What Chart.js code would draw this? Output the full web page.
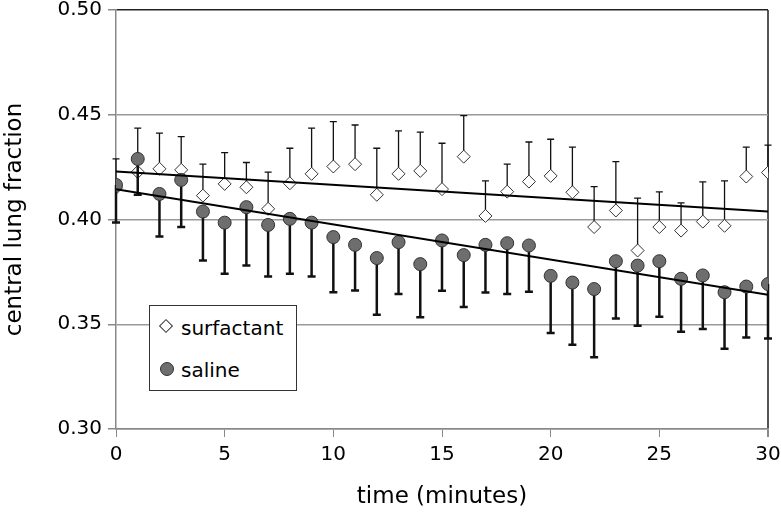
<!DOCTYPE html>
<html>
<head>
<meta charset="utf-8">
<script src="https://cdn.jsdelivr.net/npm/chart.js@4/dist/chart.umd.min.js"></script>
<style>
  body { margin: 0; background: #fff; }
  #wrap { position: relative; width: 781px; height: 528px; }
  #legend {
    position: absolute; left: 149px; top: 305px; width: 148px; height: 86px;
    box-sizing: border-box; border: 1.5px solid #333; background: #fff;
    font-family: "DejaVu Sans", sans-serif; font-size: 20px; line-height: 20px; color: #000;
  }
  #legend .txt { position: absolute; left: 31px; white-space: nowrap; }
  #legend .diamond {
    position: absolute; width: 8px; height: 8px; border: 1px solid #333; background: #fff;
    transform: rotate(45deg);
  }
  #legend .dot {
    position: absolute; width: 12px; height: 12px; border: 1px solid #333; border-radius: 50%;
    background: #6e6e6e;
  }
</style>
</head>
<body>
<div id="wrap">
  <canvas id="chart"></canvas>
  <div id="legend">
    <span class="diamond" style="left:11px; top:15px;"></span>
    <span class="txt" style="top:11.5px;">surfactant</span>
    <span class="dot" style="left:10px; top:56px;"></span>
    <span class="txt" style="top:54px;">saline</span>
  </div>
</div>
<script>
// time points (minutes)
const minutes = [0, 1, 2, 3, 4, 5, 6, 7, 8, 9, 10, 11, 12, 13, 14, 15, 16, 17, 18, 19, 20,
  21, 22, 23, 24, 25, 26, 27, 28, 29, 30];

// surfactant: mean and top of the (upper) error bar
const surfactant = [0.4151, 0.4227, 0.4242, 0.4237, 0.4114, 0.4170, 0.4154, 0.4051, 0.4173, 0.4218,
  0.4253, 0.4264, 0.4118, 0.4218, 0.4232, 0.4145, 0.4300, 0.4017, 0.4133, 0.4181,
  0.4208, 0.4130, 0.3964, 0.4043, 0.3852, 0.3964, 0.3947, 0.3990, 0.3970, 0.4205, 0.4224];
const surfactantHigh = [0.4289, 0.4436, 0.4412, 0.4396, 0.4264, 0.4319, 0.4272, 0.4226, 0.4340, 0.4436,
  0.4467, 0.4451, 0.4340, 0.4423, 0.4417, 0.4364, 0.4496, 0.4184, 0.4264, 0.4370,
  0.4383, 0.4345, 0.4157, 0.4276, 0.4102, 0.4132, 0.4079, 0.4180, 0.4184, 0.4345, 0.4355];

// saline: mean and bottom of the (lower) error bar
const saline = [0.4165, 0.4289, 0.4122, 0.4189, 0.4038, 0.3985, 0.4059, 0.3974, 0.4003, 0.3985,
  0.3916, 0.3879, 0.3816, 0.3892, 0.3787, 0.3900, 0.3830, 0.3879, 0.3887, 0.3876,
  0.3731, 0.3699, 0.3668, 0.3801, 0.3780, 0.3801, 0.3717, 0.3733, 0.3653, 0.3680, 0.3692];
const salineLow = [0.3986, 0.4118, 0.3919, 0.3964, 0.3804, 0.3741, 0.3780, 0.3728, 0.3741, 0.3728,
  0.3653, 0.3661, 0.3545, 0.3644, 0.3534, 0.3660, 0.3582, 0.3652, 0.3644, 0.3655,
  0.3458, 0.3402, 0.3343, 0.3528, 0.3493, 0.3536, 0.3464, 0.3477, 0.3383, 0.3437, 0.3432];

// linear trend lines, read at both ends
const trendX = [0, 30];
const surfactantTrend = [0.4229, 0.4038];
const salineTrend = [0.4145, 0.3641];

const xTicks = [0, 5, 10, 15, 20, 25, 30];
const yTicks = [0.30, 0.35, 0.40, 0.45, 0.50];

const toPoints = (xs, ys) => xs.map((x, i) => ({ x: x, y: ys[i] }));

// error bars drawn just before each dataset's markers
const errorBars = {
  id: 'errorBars',
  beforeDatasetDraw(chart, args) {
    const ds = chart.data.datasets[args.index];
    if (!ds.errorEnds) return;
    const { ctx, scales } = chart;
    ctx.save();
    ctx.strokeStyle = '#111';
    ctx.lineWidth = ds.errorWidth;
    ds.data.forEach((p, i) => {
      const x = scales.x.getPixelForValue(p.x);
      const y0 = scales.y.getPixelForValue(p.y);
      const y1 = scales.y.getPixelForValue(ds.errorEnds[i]);
      ctx.beginPath();
      ctx.moveTo(x, y0);
      ctx.lineTo(x, y1);
      ctx.moveTo(x - ds.capHalf, y1);
      ctx.lineTo(x + ds.capHalf, y1);
      ctx.stroke();
    });
    ctx.restore();
  }
};

const ctx = document.getElementById('chart').getContext('2d');
new Chart(ctx, {
  type: 'scatter',
  data: {
    datasets: [
      {
        label: 'surfactant trend',
        type: 'line',
        data: toPoints(trendX, surfactantTrend),
        borderColor: '#000',
        borderWidth: 2,
        pointRadius: 0,
        order: 0,
      },
      {
        label: 'saline trend',
        type: 'line',
        data: toPoints(trendX, salineTrend),
        borderColor: '#000',
        borderWidth: 2,
        pointRadius: 0,
        order: 0,
      },
      {
        label: 'saline',
        data: toPoints(minutes, saline),
        errorEnds: salineLow,
        errorWidth: 2.5,
        capHalf: 4,
        pointStyle: 'circle',
        pointRadius: 6.5,
        backgroundColor: '#6e6e6e',
        borderColor: '#333',
        borderWidth: 1,
        order: 1,
      },
      {
        label: 'surfactant',
        data: toPoints(minutes, surfactant),
        errorEnds: surfactantHigh,
        errorWidth: 1.3,
        capHalf: 3.5,
        pointStyle: 'rectRot',
        pointRadius: 6.5,
        backgroundColor: '#fff',
        borderColor: '#333',
        borderWidth: 1,
        order: 2,
      },
    ],
  },
  options: {
    responsive: true,
    maintainAspectRatio: false,
    animation: false,
    layout: { padding: { left: 0, top: 10, right: 13, bottom: 0 } },
    plugins: {
      legend: { display: false },
      tooltip: { enabled: false },
    },
    scales: {
      x: {
        type: 'linear',
        min: 0,
        max: 30,
        afterBuildTicks: (scale) => { scale.ticks = xTicks.map(v => ({ value: v })); },
        afterFit: (scale) => {
          scale.height = 99;
          scale.paddingLeft = 0;
          scale.paddingRight = 0;
        },
        ticks: {
          color: '#000',
          font: { family: 'DejaVu Sans', size: 20 },
          padding: 6,
          maxRotation: 0,
        },
        grid: {
          color: (c) => (c.tick && c.tick.value === 30 ? '#555' : 'rgba(0,0,0,0)'),
          lineWidth: (c) => (c.tick && c.tick.value === 30 ? 2 : 1),
          tickColor: '#888',
          tickLength: 8,
        },
        border: { color: '#888', width: 1.5 },
        title: {
          display: true,
          text: 'time (minutes)',
          color: '#000',
          font: { family: 'DejaVu Sans', size: 23 },
          padding: { top: 0, bottom: 17 },
        },
      },
      y: {
        type: 'linear',
        min: 0.30,
        max: 0.50,
        afterBuildTicks: (scale) => { scale.ticks = yTicks.map(v => ({ value: v })); },
        afterFit: (scale) => {
          scale.width = 116;
          scale.paddingTop = 0;
          scale.paddingBottom = 0;
        },
        ticks: {
          color: '#000',
          font: { family: 'DejaVu Sans', size: 20 },
          padding: 6,
          callback: (v) => v.toFixed(2),
        },
        grid: {
          color: (c) => (c.tick && Math.abs(c.tick.value - 0.50) < 1e-6 ? '#222' : '#999'),
          lineWidth: 1.5,
          tickColor: '#888',
          tickLength: 8,
        },
        border: { color: '#888', width: 1.5 },
        title: {
          display: true,
          text: 'central lung fraction',
          color: '#000',
          font: { family: 'DejaVu Sans', size: 23 },
          padding: { top: 1, bottom: 0 },
        },
      },
    },
  },
  plugins: [errorBars],
});
</script>
</body>
</html>
